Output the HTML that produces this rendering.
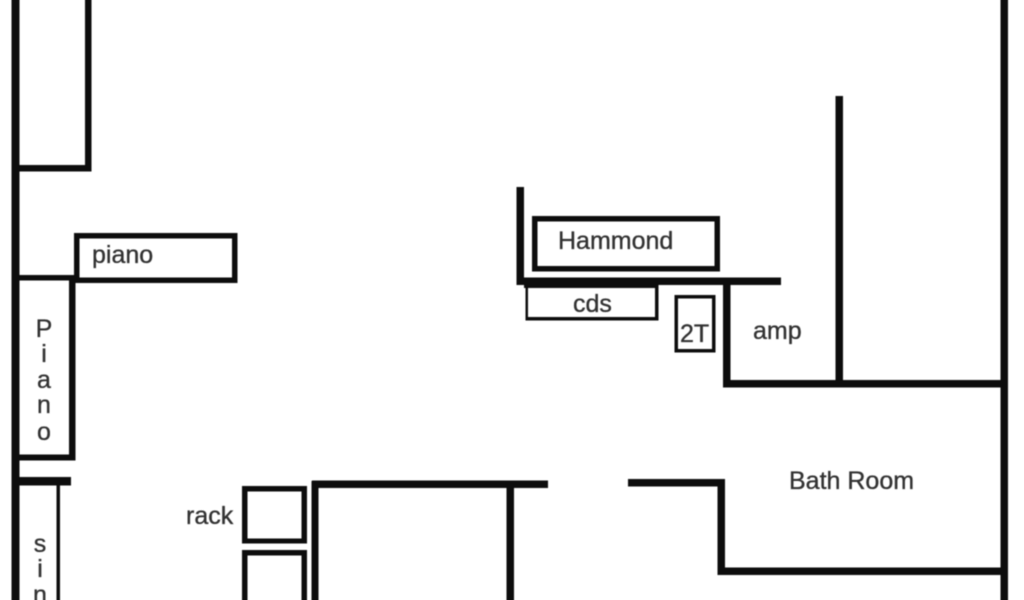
<!DOCTYPE html>
<html>
<head>
<meta charset="utf-8">
<style>
html,body{margin:0;padding:0;background:#fff;width:1024px;height:600px;overflow:hidden}
svg{display:block}
text{font-family:"Liberation Sans",sans-serif;fill:#333;stroke:#333;stroke-width:0.35px}
</style>
</head>
<body>
<svg width="1024" height="600" viewBox="0 0 1024 600" xmlns="http://www.w3.org/2000/svg">
<defs><filter id="b" x="-5%" y="-5%" width="110%" height="110%"><feGaussianBlur stdDeviation="0.6"/></filter></defs>
<rect width="1024" height="600" fill="#fff"/>
<g filter="url(#b)">
<g fill="#0c0c0c">
<!-- left wall -->
<rect x="11.5" y="-5" width="8" height="610"/>
<!-- top closet -->
<rect x="85" y="-5" width="6.5" height="176"/>
<rect x="12" y="165" width="79.500" height="6.500"/>
<!-- piano wall -->
<rect x="12" y="275" width="64" height="5.500"/>
<rect x="69" y="275" width="6.500" height="185"/>
<rect x="12" y="454.500" width="63.500" height="6"/>
<!-- piano horizontal -->
<rect x="74" y="233" width="5.500" height="50"/>
<rect x="74" y="233" width="163.500" height="5.500"/>
<rect x="232" y="233" width="5.500" height="50"/>
<rect x="74" y="277.500" width="163.500" height="5.500"/>
<!-- sink -->
<rect x="12" y="477" width="59" height="8.500"/>
<rect x="56.500" y="485" width="3.500" height="120"/>
<!-- rack -->
<rect x="242" y="486" width="5.500" height="57.500"/>
<rect x="301.500" y="486" width="5.500" height="57.500"/>
<rect x="242" y="486" width="65" height="5.500"/>
<rect x="242" y="538.500" width="65" height="5"/>
<rect x="242" y="550" width="5.500" height="55"/>
<rect x="301.500" y="550" width="5.500" height="55"/>
<rect x="242" y="550" width="65" height="5.500"/>
<!-- bottom room -->
<rect x="311.500" y="481" width="7" height="124"/>
<rect x="312" y="480.500" width="236" height="7.500"/>
<rect x="506.500" y="481" width="7.500" height="124"/>
<!-- bath -->
<rect x="628" y="479" width="97" height="7.500"/>
<rect x="717.500" y="479" width="7.500" height="96"/>
<rect x="718" y="567.500" width="290" height="7.500"/>
<!-- right wall -->
<rect x="1000.500" y="-5" width="7.500" height="610"/>
<!-- hammond wall -->
<rect x="516.500" y="187" width="7.500" height="98"/>
<rect x="517" y="277.500" width="264" height="7.500"/>
<rect x="524" y="284" width="134" height="4"/>
<!-- hammond -->
<rect x="532" y="216" width="5.500" height="55.500"/>
<rect x="714.500" y="216" width="5.500" height="55.500"/>
<rect x="532" y="216" width="188" height="5.500"/>
<rect x="532" y="266" width="188" height="5.500"/>
<!-- cds -->
<rect x="525.500" y="285" width="2.500" height="35"/>
<rect x="655" y="285" width="3.500" height="35.500"/>
<rect x="525.500" y="317" width="133" height="3.500"/>
<!-- 2T -->
<rect x="674.500" y="295" width="3.500" height="57.500"/>
<rect x="712" y="295" width="3.500" height="57.500"/>
<rect x="674.500" y="295" width="41" height="3.500"/>
<rect x="674.500" y="349" width="41" height="3.500"/>
<!-- amp -->
<rect x="723" y="278" width="7.500" height="109"/>
<rect x="723" y="380" width="285" height="7.500"/>
<rect x="835.500" y="96" width="7.500" height="288"/>
</g>
<text x="92" y="263" font-size="25">piano</text>
<text x="558" y="249" font-size="25">Hammond</text>
<text x="573" y="312" font-size="25">cds</text>
<text x="680" y="342" font-size="25">2T</text>
<text x="753" y="339" font-size="25">amp</text>
<text x="789" y="489" font-size="25">Bath Room</text>
<text x="186" y="524" font-size="25">rack</text>
<g text-anchor="middle" font-size="25">
<text x="44" y="337">P</text>
<text x="44" y="362">i</text>
<text x="44" y="388">a</text>
<text x="44" y="413">n</text>
<text x="44" y="440">o</text>
<text x="40" y="552">s</text>
<text x="40" y="577">i</text>
<text x="40" y="603">n</text>
</g>
</g>
</svg>
</body>
</html>
